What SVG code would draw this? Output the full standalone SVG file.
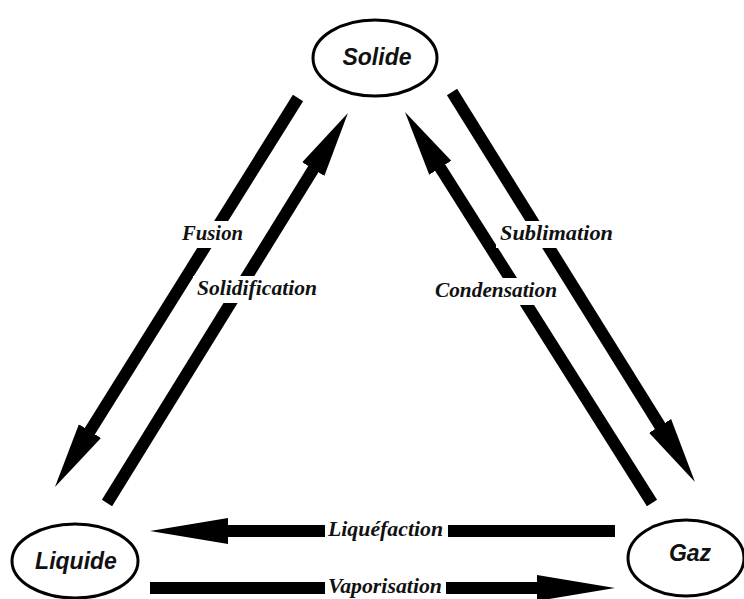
<svg xmlns="http://www.w3.org/2000/svg" width="744" height="599" viewBox="0 0 744 599">
<style>
.node ellipse{fill:#fff;stroke:#000;stroke-width:3}
.node text{font-family:"Liberation Sans",Arial,sans-serif;font-weight:bold;font-style:italic;font-size:23px;fill:#111;text-anchor:middle}
.shaft{stroke:#000;stroke-width:12;fill:none}
.lbg{fill:#fff}
.lbl{font-family:"Liberation Serif","Times New Roman",serif;font-weight:bold;font-style:italic;font-size:20px;fill:#111}
</style>
<defs>
<marker id="hd" markerUnits="userSpaceOnUse" markerWidth="66" markerHeight="28" viewBox="0 0 66 28" refX="1" refY="14" orient="auto">
<path d="M0,1 L66,14 L0,27 Z" fill="#000"/>
</marker>
<marker id="hh" markerUnits="userSpaceOnUse" markerWidth="78" markerHeight="28" viewBox="0 0 78 28" refX="1" refY="14" orient="auto">
<path d="M0,1 L78,14 L0,27 Z" fill="#000"/>
</marker>
</defs>
<rect width="744" height="599" fill="#fff"/>
<g id="connectors">
<line class="shaft" x1="298" y1="98" x2="89.4" y2="431.9" marker-end="url(#hd)"/>
<line class="shaft" x1="107" y1="503" x2="313.8" y2="168.3" marker-end="url(#hd)"/>
<line class="shaft" x1="652" y1="503" x2="439.7" y2="166.9" marker-end="url(#hd)"/>
<line class="shaft" x1="452" y1="92" x2="660.6" y2="426.8" marker-end="url(#hd)"/>
<line class="shaft" x1="615" y1="531" x2="227" y2="531" marker-end="url(#hh)"/>
<line class="shaft" x1="150" y1="588" x2="538" y2="588" marker-end="url(#hh)"/>
<rect class="lbg" x="178" y="221" width="69" height="27"/>
<text class="lbl" x="182" y="240" textLength="61" lengthAdjust="spacingAndGlyphs">Fusion</text>
<rect class="lbg" x="193" y="276" width="128" height="27"/>
<text class="lbl" x="197" y="295" textLength="120" lengthAdjust="spacingAndGlyphs">Solidification</text>
<rect class="lbg" x="496" y="221" width="121" height="27"/>
<text class="lbl" x="500" y="240" textLength="113" lengthAdjust="spacingAndGlyphs">Sublimation</text>
<rect class="lbg" x="431" y="278" width="130" height="27"/>
<text class="lbl" x="435" y="297" textLength="122" lengthAdjust="spacingAndGlyphs">Condensation</text>
<rect class="lbg" x="325" y="518" width="123" height="26"/>
<text class="lbl" x="328" y="536" textLength="115" lengthAdjust="spacingAndGlyphs">Liquéfaction</text>
<rect class="lbg" x="325" y="575" width="121" height="24"/>
<text class="lbl" x="328" y="593" textLength="114" lengthAdjust="spacingAndGlyphs">Vaporisation</text>
</g>
<g id="solide" class="node">
<ellipse cx="375" cy="58" rx="62" ry="38"/>
<text x="377" y="65">Solide</text>
</g>
<g id="liquide" class="node">
<ellipse cx="75" cy="561" rx="63" ry="37"/>
<text x="76" y="569">Liquide</text>
</g>
<g id="gaz" class="node">
<ellipse cx="686" cy="558" rx="58" ry="38"/>
<text x="690" y="561">Gaz</text>
</g>
</svg>
